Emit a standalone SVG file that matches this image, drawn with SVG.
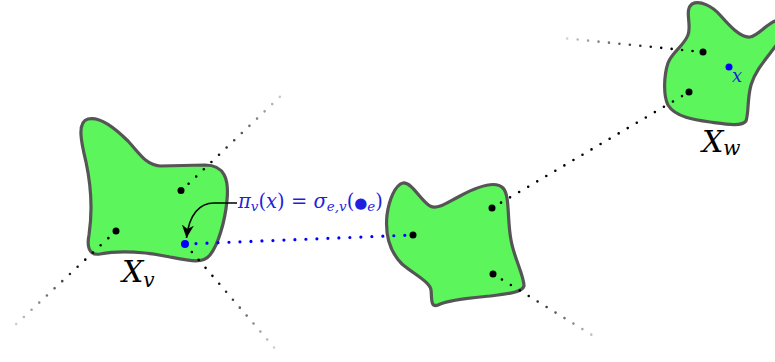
<svg xmlns="http://www.w3.org/2000/svg" width="775" height="362" viewBox="0 0 775 362">
<style>
.blob{fill:#5cf55c;stroke:#555;stroke-width:3.2;stroke-linejoin:round}
.dotl{fill:none;stroke-width:2.6;stroke-linecap:round;stroke-dasharray:0 10.5}
.blue{stroke:#0000ff;stroke-width:3.2;stroke-dasharray:0 11}
.pt{fill:#000}
.bpt{fill:#0000ff}
.lbl{font-family:"DejaVu Serif","Liberation Serif",serif;font-style:italic;fill:#000}
.math{font-family:"DejaVu Serif","Liberation Serif",serif;fill:#1f1fe0}
</style>
<defs>
<linearGradient id="g1" gradientUnits="userSpaceOnUse" x1="181" y1="191" x2="286" y2="91"><stop offset="0.3" stop-color="#000"/><stop offset="1" stop-color="#dadada"/></linearGradient>
<linearGradient id="g2" gradientUnits="userSpaceOnUse" x1="116" y1="231" x2="12" y2="328"><stop offset="0.3" stop-color="#000"/><stop offset="1" stop-color="#dadada"/></linearGradient>
<linearGradient id="g3" gradientUnits="userSpaceOnUse" x1="185" y1="244" x2="278" y2="352"><stop offset="0.3" stop-color="#000"/><stop offset="1" stop-color="#dadada"/></linearGradient>
<linearGradient id="g4" gradientUnits="userSpaceOnUse" x1="493" y1="274" x2="600" y2="340"><stop offset="0.3" stop-color="#000"/><stop offset="1" stop-color="#dadada"/></linearGradient>
<linearGradient id="g5" gradientUnits="userSpaceOnUse" x1="703" y1="52" x2="562" y2="38"><stop offset="0.3" stop-color="#000"/><stop offset="1" stop-color="#dadada"/></linearGradient>
<marker id="ah" viewBox="-13 -6 14 12" refX="0" refY="0" markerWidth="14" markerHeight="12" markerUnits="userSpaceOnUse" orient="auto"><path d="M0,0 L-13,-6 L-9,0 L-13,6 Z" fill="#000"/></marker>
</defs>

<g id="node-Xv">
<path class="blob" d="M88,119 C100,116 115,128 128,141 C140,154 146,165 160,166 L205,165 C225,165 229,180 227,200 C225,222 218,245 210,255 C203,264 190,261 170,257 C148,252 120,250 100,254 C88,256 87,245 89,235 C92,215 92,190 86,162 C82,145 76,122 88,119 Z"/>
</g>
<g id="node-Xe">
<path class="blob" d="M403,183 C412,182 420,200 430,206 C438,210 448,202 460,196 C475,188 495,180 503,188 C510,195 507,220 511,240 C514,258 524,275 524,286 C522,293 505,294 490,296 C470,298 448,300 438,305 C430,308 432,297 431,290 C430,282 415,275 402,264 C390,252 385,235 387,215 C389,200 395,185 403,183 Z"/>
</g>
<g id="node-Xw">
<path class="blob" d="M692,4 C700,0 712,6 720,15 C728,24 740,38 750,37 C758,36 768,22 778,20 L780,40 C770,55 756,68 751,85 C747,100 749,112 746,121 C742,127 725,124 710,122 C695,120 675,117 668,105 C663,95 664,75 668,63 C672,52 683,47 688,35 C692,25 684,10 692,4 Z"/>
</g>

<g id="connectors">
<path class="dotl" stroke="url(#g1)" d="M181,191 L286,91"/>
<path class="dotl" stroke="url(#g2)" d="M116,231 L12,328"/>
<path class="dotl" stroke="url(#g3)" d="M185,244 L278,352"/>
<path class="dotl" stroke="url(#g4)" d="M493,274 L600,340"/>
<path class="dotl" stroke="url(#g5)" d="M703,52 L562,38"/>
<path class="dotl" stroke="#000" d="M492,208 L689,92"/>
<path class="dotl blue" d="M185,244 L413,235"/>
<path d="M237,203 H214 C200,203 189,214 186.5,238" fill="none" stroke="#000" stroke-width="1.6" marker-end="url(#ah)"/>
</g>

<g id="points">
<circle class="pt" cx="181" cy="190.5" r="3.5"/>
<circle class="pt" cx="116" cy="231" r="3.5"/>
<circle class="pt" cx="413" cy="235" r="3.5"/>
<circle class="pt" cx="492" cy="208" r="3.5"/>
<circle class="pt" cx="493" cy="274" r="3.5"/>
<circle class="pt" cx="703" cy="52" r="3.5"/>
<circle class="pt" cx="689" cy="92" r="3.5"/>
<circle class="bpt" cx="185" cy="244" r="4"/>
<circle class="bpt" cx="729" cy="67" r="3.5"/>
</g>

<g id="labels">
<text class="lbl" x="122" y="282" font-size="30">X<tspan font-size="20" dy="5">v</tspan></text>
<text class="lbl" x="702" y="152" font-size="30">X<tspan font-size="20" dy="3">w</tspan></text>
<text class="math" x="732" y="82" font-size="18" font-style="italic">x</text>
<text class="math" x="238" y="208" font-size="19.5"><tspan font-style="italic">π</tspan><tspan font-style="italic" font-size="13.5" dy="3">v</tspan><tspan dy="-3">(</tspan><tspan font-style="italic">x</tspan>) = <tspan font-style="italic">σ</tspan><tspan font-style="italic" font-size="13.5" dy="3">e,v</tspan><tspan dy="-3">(</tspan><tspan font-size="15">●</tspan><tspan font-style="italic" font-size="13.5" dy="3">e</tspan><tspan dy="-3">)</tspan></text>
</g>
</svg>
